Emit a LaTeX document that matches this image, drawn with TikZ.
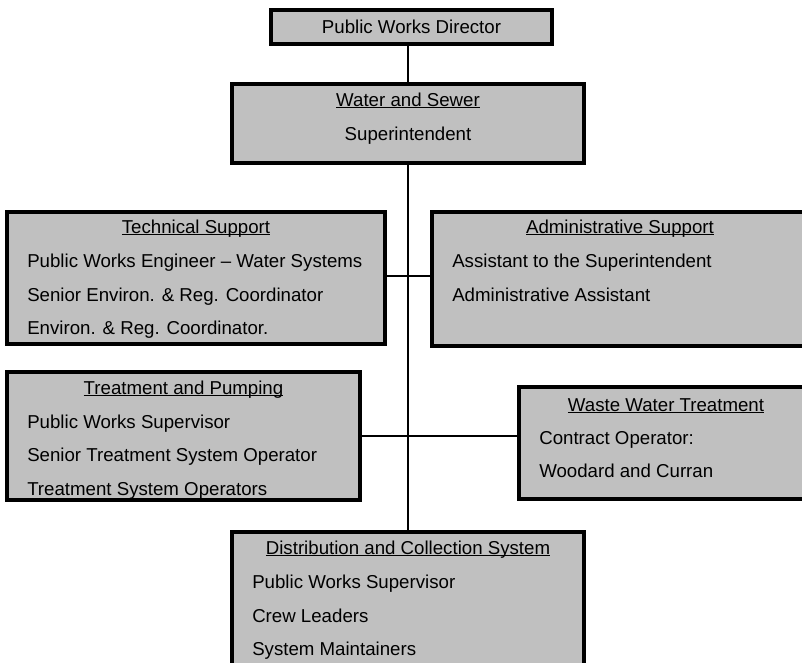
\documentclass[tikz,border=0pt]{standalone}
\usepackage{fontspec}
\setmainfont{Liberation Sans}
\usetikzlibrary{fit}
\definecolor{boxgray}{HTML}{C0C0C0}
\newcommand\myul[1]{{\setbox0\hbox{#1}\rlap{\rule[-1.7pt]{\wd0}{0.85pt}}\box0}}
\begin{document}
\begin{tikzpicture}[x=0.75pt,y=-0.75pt,
  orgbox/.style={draw=black,fill=boxgray,line width=2.3pt,inner sep=0pt,rectangle},
  txt/.style={inner sep=0pt,font=\fontsize{14}{16}\selectfont},
  titletxt/.style={txt,anchor=base},
  itemtxt/.style={txt,anchor=base west},
  link/.style={draw=black,line width=1.8pt}]
\useasboundingbox (0,0) rectangle (802,662);
\clip (0,0) rectangle (802,662);
% boxes
\node[orgbox,fit={(271,10) (552,44)}] (dir) {};
\node[orgbox,fit={(232,84) (584,163)}] (ws) {};
\node[orgbox,fit={(7,212) (385,344)}] (tech) {};
\node[orgbox,fit={(432,212) (808,346)}] (admin) {};
\node[orgbox,fit={(7,372) (360,500)}] (treat) {};
\node[orgbox,fit={(519,387) (813,499)}] (waste) {};
\node[orgbox,fit={(232,532) (584,690)}] (dist) {};
% connectors
\coordinate (trunktop) at (408,44);
\coordinate (row1) at (408,276);
\coordinate (row2) at (408,436);
\draw[link] (trunktop) -- (ws.north -| trunktop);
\draw[link] (ws.south -| trunktop) -- (dist.north -| trunktop);
\draw[link] (tech.east |- row1) -- (admin.west |- row1);
\draw[link] (treat.east |- row2) -- (waste.west |- row2);
% texts
\node[titletxt] (dirT) at (411.5,33) {Public Works Director};
\node[titletxt] (wsT) at (408,106) {\myul{Water and Sewer}};
\node[titletxt] (wsA) at (408,140) {Superintendent};
\node[titletxt] (techT) at (196,233) {\myul{Technical Support}};
\node[itemtxt] (techA) at (27,267.5) {Public Works Engineer – Water Systems};
\node[itemtxt] (techB) at (27,301) {Senior Environ. \& Reg. Coordinator};
\node[itemtxt] (techC) at (27,334.5) {Environ. \& Reg. Coordinator.};
\node[titletxt] (adminT) at (620,233) {\myul{Administrative Support}};
\node[itemtxt] (adminA) at (452,267.5) {Assistant to the Superintendent};
\node[itemtxt] (adminB) at (452,301) {Administrative Assistant};
\node[titletxt] (treatT) at (183.5,394) {\myul{Treatment and Pumping}};
\node[itemtxt] (treatA) at (27,428) {Public Works Supervisor};
\node[itemtxt] (treatB) at (27,461.5) {Senior Treatment System Operator};
\node[itemtxt] (treatC) at (27,495) {Treatment System Operators};
\node[titletxt] (wasteT) at (666,411) {\myul{Waste Water Treatment}};
\node[itemtxt] (wasteA) at (539,444) {Contract Operator:};
\node[itemtxt] (wasteB) at (539,477) {Woodard and Curran};
\node[titletxt] (distT) at (408,554) {\myul{Distribution and Collection System}};
\node[itemtxt] (distA) at (252,588) {Public Works Supervisor};
\node[itemtxt] (distB) at (252,622) {Crew Leaders};
\node[itemtxt] (distC) at (252,655.5) {System Maintainers};
\end{tikzpicture}
\end{document}
